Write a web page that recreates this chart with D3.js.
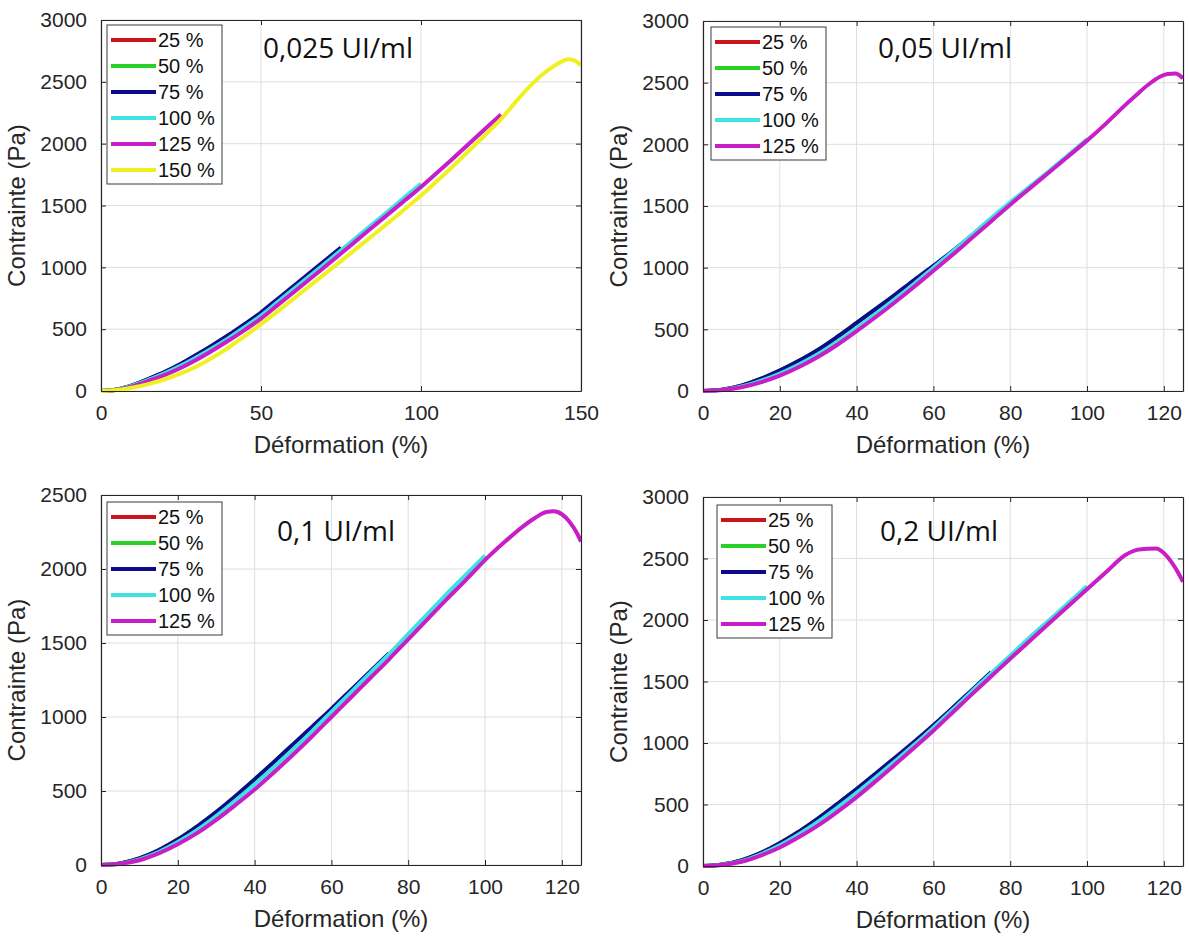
<!DOCTYPE html>
<html><head><meta charset="utf-8">
<script src="https://cdn.jsdelivr.net/npm/d3@7/dist/d3.min.js"></script>
<style>body{margin:0;background:#fff}svg{display:block}</style>
</head><body>
<svg id="chart" width="1189" height="936"></svg>
<script>
// ---------- DATA ----------
const strainLabels = ['25 %', '50 %', '75 %', '100 %', '125 %', '150 %'];
const titles = ['0,025 UI/ml', '0,05 UI/ml', '0,1 UI/ml', '0,2 UI/ml'];
const xLabel = 'Déformation (%)';
const yLabel = 'Contrainte (Pa)';
const xTicks150 = [0, 50, 100, 150];
const xTicks125 = [0, 20, 40, 60, 80, 100, 120];
const yTicks3000 = [0, 500, 1000, 1500, 2000, 2500, 3000];
const yTicks2500 = [0, 500, 1000, 1500, 2000, 2500];

// Panel 1 : 0,025 UI/ml  ([strain %, stress Pa])
const p1_25 = [[0,0],[5,12],[10,47],[15,98],[20,153],[25,218]];
const p1_50 = [[0,0],[5,12],[10,47],[15,98],[20,153],[25,218],[30,292],[35,370],[40,452],[45,540],[50,630]];
const p1_75 = [[0,0],[5,12],[10,48],[15,99],[20,155],[25,220],[30,295],[35,373],[40,455],[45,543],[50,635],[55,740],[60,845],[65,950],[70,1055],[75,1160]];
const p1_100 = [[0,0],[5,12],[10,45],[15,92],[20,145],[25,205],[30,275],[35,350],[40,430],[45,518],[50,610],[55,715],[60,820],[65,925],[70,1030],[75,1138],[80,1245],[85,1352],[90,1460],[95,1568],[100,1675]];
const p1_125 = [[0,0],[5,10],[10,40],[15,83],[20,130],[25,188],[30,255],[35,330],[40,410],[45,495],[50,585],[55,690],[60,795],[65,900],[70,1005],[75,1112],[80,1220],[85,1328],[90,1435],[95,1542],[100,1650],[105,1765],[110,1880],[115,2000],[120,2118],[125,2235]];
const p1_150 = [[0,0],[5,8],[10,28],[15,58],[20,95],[25,142],[30,200],[35,272],[40,354],[45,445],[50,540],[55,640],[60,742],[65,845],[70,948],[75,1050],[80,1155],[85,1260],[90,1365],[95,1472],[100,1580],[105,1698],[110,1818],[115,1943],[120,2068],[125,2198],[130,2350],[135,2490],[140,2600],[143,2650],[146,2682],[148,2672],[150,2635]];

// Panel 2 : 0,05 UI/ml
const p2_25 = [[0,0],[5,11],[10,44],[15,98],[20,165],[25,245]];
const p2_50 = [[0,0],[5,11],[10,44],[15,98],[20,165],[25,245],[30,335],[35,440],[40,552],[45,665],[50,780]];
const p2_75 = [[0,0],[5,11],[10,44],[15,98],[20,165],[25,245],[30,335],[35,440],[40,552],[45,665],[50,780],[55,900],[60,1015],[65,1135],[70,1260],[75,1390]];
const p2_100 = [[0,0],[5,9],[10,36],[15,82],[20,142],[25,215],[30,300],[35,400],[40,510],[45,625],[50,745],[55,870],[60,1000],[65,1130],[70,1265],[75,1400],[80,1530],[85,1655],[90,1780],[95,1910],[100,2040]];
const p2_125 = [[0,0],[5,8],[10,30],[15,70],[20,125],[25,195],[30,278],[35,375],[40,485],[45,600],[50,720],[55,845],[60,975],[65,1105],[70,1240],[75,1375],[80,1510],[85,1640],[90,1770],[95,1900],[100,2030],[105,2170],[110,2320],[113,2405],[116,2485],[119,2548],[121,2570],[123,2575],[125,2535]];

// Panel 3 : 0,1 UI/ml
const p3_25 = [[0,0],[5,11],[10,45],[15,100],[20,172],[25,260]];
const p3_50 = [[0,0],[5,11],[10,45],[15,100],[20,172],[25,260],[30,358],[35,465],[40,578],[45,695],[50,815]];
const p3_75 = [[0,0],[5,11],[10,45],[15,100],[20,172],[25,260],[30,358],[35,465],[40,578],[45,695],[50,815],[55,935],[60,1055],[65,1180],[70,1305],[75,1430]];
const p3_100 = [[0,0],[5,9],[10,38],[15,88],[20,155],[25,235],[30,330],[35,435],[40,545],[45,660],[50,780],[55,905],[60,1035],[65,1165],[70,1295],[75,1425],[80,1560],[85,1695],[90,1830],[95,1960],[100,2090]];
const p3_125 = [[0,0],[5,8],[10,32],[15,78],[20,140],[25,215],[30,305],[35,405],[40,510],[45,625],[50,745],[55,870],[60,1000],[65,1130],[70,1260],[75,1390],[80,1525],[85,1660],[90,1795],[95,1925],[100,2060],[105,2180],[110,2290],[113,2345],[116,2385],[118,2390],[120,2370],[122,2320],[124,2240],[125,2185]];

// Panel 4 : 0,2 UI/ml
const p4_25 = [[0,0],[5,12],[10,46],[15,105],[20,185],[25,280]];
const p4_50 = [[0,0],[5,12],[10,46],[15,105],[20,185],[25,280],[30,388],[35,505],[40,625],[45,752],[50,880]];
const p4_75 = [[0,0],[5,12],[10,46],[15,105],[20,185],[25,280],[30,388],[35,505],[40,625],[45,752],[50,880],[55,1010],[60,1145],[65,1285],[70,1430],[75,1575]];
const p4_100 = [[0,0],[5,10],[10,40],[15,95],[20,168],[25,258],[30,360],[35,475],[40,595],[45,722],[50,852],[55,985],[60,1125],[65,1270],[70,1420],[75,1565],[80,1710],[85,1855],[90,1995],[95,2135],[100,2275]];
const p4_125 = [[0,0],[5,9],[10,35],[15,85],[20,150],[25,235],[30,330],[35,440],[40,560],[45,690],[50,825],[55,962],[60,1100],[65,1248],[70,1395],[75,1540],[80,1685],[85,1828],[90,1970],[95,2110],[100,2250],[105,2390],[110,2528],[113,2570],[116,2580],[118,2582],[120,2545],[122,2470],[124,2370],[125,2310]];

// ---------- STYLE / LAYOUT ----------
const colors = ['#c8141c', '#28d028', '#0c0c8a', '#3ee2e2', '#c81ec8', '#f0f020'];
const panels = [
  {series:[p1_25,p1_50,p1_75,p1_100,p1_125,p1_150], xMax:150, xTicks:xTicks150, yMax:3000, yTicks:yTicks3000,
   left:101, top:20, w:480, h:371, title:titles[0], tx:263, ty:58, lx:107, ly:25},
  {series:[p2_25,p2_50,p2_75,p2_100,p2_125], xMax:125, xTicks:xTicks125, yMax:3000, yTicks:yTicks3000,
   left:703, top:21, w:480, h:370, title:titles[1], tx:878, ty:58, lx:711, ly:27},
  {series:[p3_25,p3_50,p3_75,p3_100,p3_125], xMax:125, xTicks:xTicks125, yMax:2500, yTicks:yTicks2500,
   left:101, top:495, w:480, h:370, title:titles[2], tx:277, ty:541, lx:107, ly:502},
  {series:[p4_25,p4_50,p4_75,p4_100,p4_125], xMax:125, xTicks:xTicks125, yMax:3000, yTicks:yTicks3000,
   left:703, top:497, w:480, h:369, title:titles[3], tx:880, ty:541, lx:717, ly:505}
];

const svg = d3.select('#chart');
const axisCol = '#262626';
const font = '"Liberation Sans", Arial, Helvetica, sans-serif';

panels.forEach((p, pi) => {
  const x = d3.scaleLinear().domain([0, p.xMax]).range([p.left, p.left + p.w]);
  const y = d3.scaleLinear().domain([0, p.yMax]).range([p.top + p.h, p.top]);
  const g = svg.append('g');

  g.append('rect').attr('x', p.left).attr('y', p.top).attr('width', p.w).attr('height', p.h).attr('fill', '#fff');

  // grid
  g.append('g').selectAll('line').data(p.xTicks).join('line')
    .attr('x1', d => x(d)).attr('x2', d => x(d)).attr('y1', p.top).attr('y2', p.top + p.h)
    .attr('stroke', '#dedede').attr('stroke-width', 1);
  g.append('g').selectAll('line').data(p.yTicks).join('line')
    .attr('y1', d => y(d)).attr('y2', d => y(d)).attr('x1', p.left).attr('x2', p.left + p.w)
    .attr('stroke', '#dedede').attr('stroke-width', 1);

  // curves
  const clipId = 'clip' + pi;
  svg.append('clipPath').attr('id', clipId).append('rect')
    .attr('x', p.left).attr('y', p.top - 3).attr('width', p.w).attr('height', p.h + 6);
  const line = d3.line().x(d => x(d[0])).y(d => y(d[1])).curve(d3.curveMonotoneX);
  const cg = g.append('g').attr('clip-path', `url(#${clipId})`);
  p.series.forEach((s, si) => {
    cg.append('path').datum(s).attr('d', line).attr('fill', 'none')
      .attr('stroke', colors[si]).attr('stroke-width', 4)
      .attr('stroke-linejoin', 'round').attr('stroke-linecap', 'butt');
  });

  // axes (box with inward ticks)
  const tl = 5;
  const fmt = d3.format('d');
  const xb = d3.axisBottom(x).tickValues(p.xTicks).tickFormat(fmt).tickSizeInner(-tl).tickSizeOuter(0).tickPadding(14);
  const xt = d3.axisTop(x).tickValues(p.xTicks).tickSizeInner(-tl).tickSizeOuter(0).tickFormat('');
  const yl = d3.axisLeft(y).tickValues(p.yTicks).tickFormat(fmt).tickSizeInner(-tl).tickSizeOuter(0).tickPadding(14);
  const yr = d3.axisRight(y).tickValues(p.yTicks).tickSizeInner(-tl).tickSizeOuter(0).tickFormat('');
  const styleAxis = sel => {
    sel.selectAll('path').attr('stroke', axisCol).attr('stroke-width', 1.2);
    sel.selectAll('line').attr('stroke', axisCol).attr('stroke-width', 1);
    sel.selectAll('text').attr('fill', axisCol).style('font-family', font).style('font-size', '21px');
  };
  g.append('g').attr('transform', `translate(0,${p.top + p.h})`).call(xb).call(styleAxis)
    .selectAll('text').attr('dy', '0.71em');
  g.append('g').attr('transform', `translate(0,${p.top})`).call(xt).call(styleAxis);
  g.append('g').attr('transform', `translate(${p.left},0)`).call(yl).call(styleAxis);
  g.append('g').attr('transform', `translate(${p.left + p.w},0)`).call(yr).call(styleAxis);

  // axis labels
  g.append('text').attr('x', p.left + p.w / 2).attr('y', p.top + p.h + 62)
    .attr('text-anchor', 'middle').attr('fill', axisCol)
    .style('font-family', font).style('font-size', '24px').text(xLabel);
  g.append('text').attr('transform', `translate(${p.left - 76},${p.top + p.h / 2}) rotate(-90)`)
    .attr('text-anchor', 'middle').attr('fill', axisCol)
    .style('font-family', font).style('font-size', '24px').text(yLabel);

  // title annotation
  g.append('text').attr('x', p.tx).attr('y', p.ty).attr('fill', '#111')
    .style('font-family', '"Open Sans", sans-serif').style('font-size', '28px').text(p.title);

  // legend
  const n = p.series.length;
  const lg = g.append('g');
  lg.append('rect').attr('x', p.lx).attr('y', p.ly).attr('width', 115).attr('height', 26 * n + 3)
    .attr('fill', '#fff').attr('stroke', '#3a3a3a').attr('stroke-width', 1);
  strainLabels.slice(0, n).forEach((lab, i) => {
    const cy = p.ly + 15 + 26 * i;
    lg.append('line').attr('x1', p.lx + 4).attr('x2', p.lx + 49).attr('y1', cy).attr('y2', cy)
      .attr('stroke', colors[i]).attr('stroke-width', 4);
    lg.append('text').attr('x', p.lx + 51).attr('y', cy).attr('dy', '0.36em').attr('fill', '#111')
      .style('font-family', font).style('font-size', '20px').text(lab);
  });
});
</script>
</body></html>
